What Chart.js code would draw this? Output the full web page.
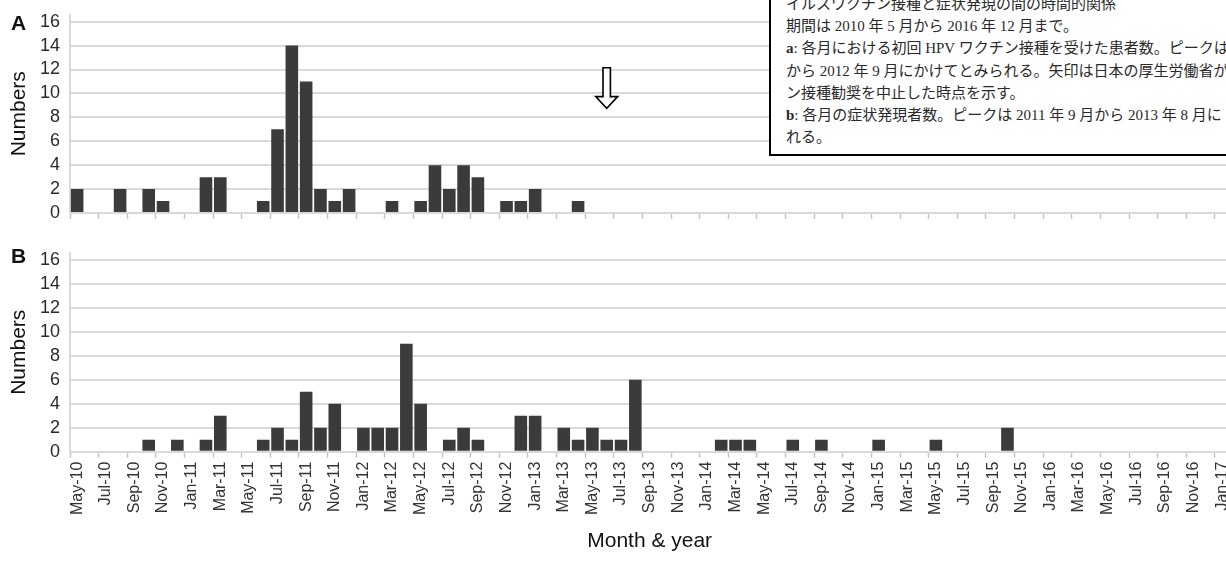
<!DOCTYPE html>
<html>
<head>
<meta charset="utf-8">
<script src="https://cdn.jsdelivr.net/npm/chart.js@4.4.1/dist/chart.umd.min.js"></script>
<style>
html,body{margin:0;padding:0;background:#fff;overflow:hidden;}
#wrap{position:relative;width:1226px;height:562px;overflow:hidden;background:#fff;}
canvas{position:absolute;left:0;}
#cA{top:0;}
#cB{top:235px;}
.plabel{position:absolute;left:11px;font:bold 21px "Liberation Sans",Arial,sans-serif;line-height:1;color:#111;z-index:4;}
#note{position:absolute;left:769px;top:-9px;width:640px;background:#fff;border:2px solid #000;padding:0 0 6px 15px;
  font-family:"Liberation Serif","Noto Sans CJK JP",serif;font-size:15px;word-spacing:0;line-height:22.2px;color:#2a2a2a;white-space:nowrap;z-index:5;}
#note b{font-weight:bold;}
</style>
</head>
<body>
<div id="wrap">
  <canvas id="cA" width="1240" height="225"></canvas>
  <canvas id="cB" width="1240" height="327"></canvas>
  <div class="plabel" style="top:12px;">A</div>
  <div class="plabel" style="top:245px;">B</div>
  <div id="note">
    <div>イルスワクチン接種と症状発現の間の時間的関係</div>
    <div>期間は 2010 年 5 月から 2016 年 12 月まで。</div>
    <div><b>a</b>: 各月における初回 HPV ワクチン接種を受けた患者数。ピークは</div>
    <div>から 2012 年 9 月にかけてとみられる。矢印は日本の厚生労働省が</div>
    <div>ン接種勧奨を中止した時点を示す。</div>
    <div><b>b</b>: 各月の症状発現者数。ピークは 2011 年 9 月から 2013 年 8 月に</div>
    <div>れる。</div>
  </div>
</div>
<script>
// ---- categories (month & year) ----
const months = [
  'May-10','Jun-10','Jul-10','Aug-10','Sep-10','Oct-10','Nov-10','Dec-10',
  'Jan-11','Feb-11','Mar-11','Apr-11','May-11','Jun-11','Jul-11','Aug-11','Sep-11','Oct-11','Nov-11','Dec-11',
  'Jan-12','Feb-12','Mar-12','Apr-12','May-12','Jun-12','Jul-12','Aug-12','Sep-12','Oct-12','Nov-12','Dec-12',
  'Jan-13','Feb-13','Mar-13','Apr-13','May-13','Jun-13','Jul-13','Aug-13','Sep-13','Oct-13','Nov-13','Dec-13',
  'Jan-14','Feb-14','Mar-14','Apr-14','May-14','Jun-14','Jul-14','Aug-14','Sep-14','Oct-14','Nov-14','Dec-14',
  'Jan-15','Feb-15','Mar-15','Apr-15','May-15','Jun-15','Jul-15','Aug-15','Sep-15','Oct-15','Nov-15','Dec-15',
  'Jan-16','Feb-16','Mar-16','Apr-16','May-16','Jun-16','Jul-16','Aug-16','Sep-16','Oct-16','Nov-16','Dec-16',
  'Jan-17'
];

// ---- panel A: first HPV vaccination per month ----
const firstVaccination = [
  2,0,0,2,0,2,1,0,
  0,3,3,0,0,1,7,14,11,2,1,2,
  0,0,1,0,1,4,2,4,3,0,1,1,
  2,0,0,1,0,0,0,0,0,0,0,0,
  0,0,0,0,0,0,0,0,0,0,0,0,
  0,0,0,0,0,0,0,0,0,0,0,0,
  0,0,0,0,0,0,0,0,0,0,0,0,
  0
];

// ---- panel B: symptom onset per month ----
const symptomOnset = [
  0,0,0,0,0,1,0,1,
  0,1,3,0,0,1,2,1,5,2,4,0,
  2,2,2,9,4,0,1,2,1,0,0,3,
  3,0,2,1,2,1,1,6,0,0,0,0,
  0,1,1,1,0,0,1,0,1,0,0,0,
  1,0,0,0,1,0,0,0,0,2,0,0,
  0,0,0,0,0,0,0,0,0,0,0,0,
  0
];

// ---- y ticks & arrow annotation ----
const yMin = 0, yMax = 16.6, yStep = 2;
const arrowMonth = 'Jun-13';
const arrowFrom = 12.15, arrowTo = 8.76;

Chart.defaults.font.family = '"Liberation Sans", Arial, sans-serif';
Chart.defaults.animation = false;

const gridGrey = '#d9d9d9';

const arrowPlugin = {
  id: 'arrowPlugin',
  afterDatasetsDraw(chart) {
    const ctx = chart.ctx;
    const x = chart.scales.x.getPixelForValue(months.indexOf(arrowMonth));
    const yTop = chart.scales.y.getPixelForValue(arrowFrom);
    const yTip = chart.scales.y.getPixelForValue(arrowTo);
    const sw = 3.7, hw = 11, hh = 11.6;
    ctx.save();
    ctx.beginPath();
    ctx.moveTo(x - sw, yTop);
    ctx.lineTo(x + sw, yTop);
    ctx.lineTo(x + sw, yTip - hh);
    ctx.lineTo(x + hw, yTip - hh);
    ctx.lineTo(x, yTip);
    ctx.lineTo(x - hw, yTip - hh);
    ctx.lineTo(x - sw, yTip - hh);
    ctx.closePath();
    ctx.fillStyle = '#fff';
    ctx.fill();
    ctx.lineWidth = 1.6;
    ctx.strokeStyle = '#000';
    ctx.lineJoin = 'miter';
    ctx.stroke();
    ctx.restore();
  }
};

function makeChart(canvasId, data, opts) {
  return new Chart(document.getElementById(canvasId), {
    type: 'bar',
    data: {
      labels: months,
      datasets: [{
        data: data,
        backgroundColor: '#3b3b3b',
        borderWidth: 0,
        barPercentage: 0.88,
        categoryPercentage: 1.0
      }]
    },
    plugins: opts.plugins || [],
    options: {
      responsive: false,
      animation: false,
      layout: { padding: { top: opts.padTop, right: 10.7, left: 0, bottom: 0 } },
      plugins: { legend: { display: false }, tooltip: { enabled: false } },
      scales: {
        x: {
          type: 'category',
          offset: true,
          grid: {
            offset: true,
            drawOnChartArea: false,
            drawTicks: true,
            tickLength: 6,
            tickWidth: 1.5,
            tickColor: (c) => (c.index % 2 === 0 ? '#c4c4c4' : 'rgba(0,0,0,0)')
          },
          border: { display: true, color: gridGrey, width: 2 },
          ticks: {
            autoSkip: false,
            maxRotation: 90,
            minRotation: 90,
            padding: 4,
            color: '#333',
            font: { size: 16 },
            callback: function (v, i) {
              if (!opts.showLabels) return '';
              return i % 2 === 0 ? this.getLabelForValue(v) : '';
            }
          },
          title: opts.xTitle ? {
            display: true, text: opts.xTitle, color: '#111',
            font: { size: 21 }, padding: { top: 0, bottom: 8 }
          } : { display: false },
          afterFit: (s) => { s.height = opts.xHeight; s.paddingLeft = 0; s.paddingRight = 0; }
        },
        y: {
          min: yMin,
          max: yMax,
          ticks: {
            stepSize: yStep,
            includeBounds: false,
            padding: 10,
            color: '#2a2a2a',
            font: { size: 18 }
          },
          grid: { color: gridGrey, lineWidth: 2, drawTicks: false },
          border: { display: true, color: gridGrey, width: 2 },
          title: {
            display: true, text: 'Numbers', color: '#111',
            font: { size: 21 }, padding: { top: 7, bottom: 0 }
          },
          afterFit: (s) => { s.width = 70; s.paddingTop = 0; s.paddingBottom = 0; }
        }
      }
    }
  });
}

makeChart('cA', firstVaccination, { padTop: 14.5, xHeight: 12, showLabels: false, plugins: [arrowPlugin] });
makeChart('cB', symptomOnset, { padTop: 17.8, xHeight: 110.3, showLabels: true, xTitle: 'Month & year' });
</script>
</body>
</html>
